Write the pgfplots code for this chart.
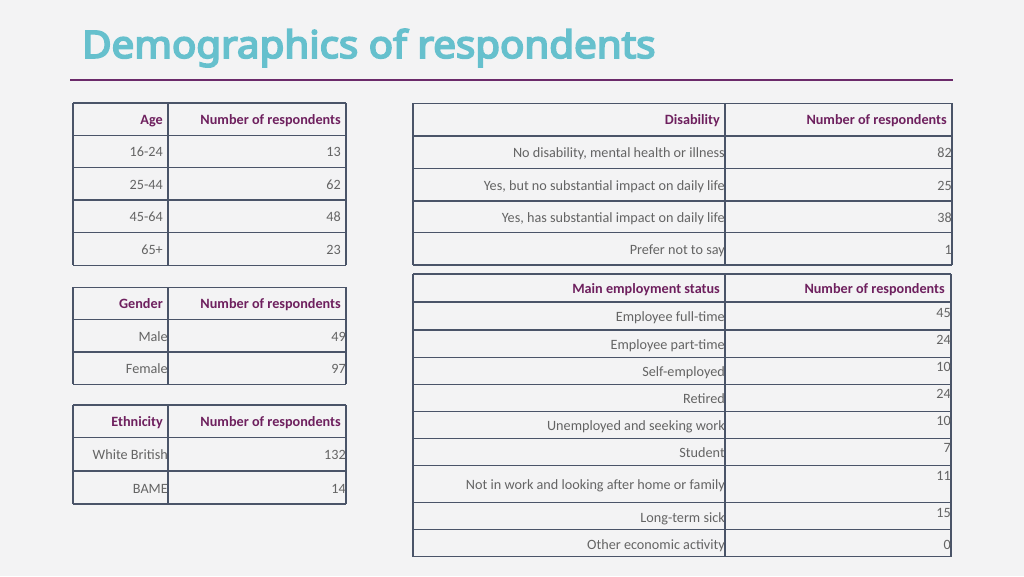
\documentclass[border=0pt]{standalone}
\usepackage{fontspec}
\setmainfont{Carlito}
\newfontfamily\titlefont{Noto Sans}[FakeBold=4.5]
\usepackage{pgfplots}
\usepackage{pgfplotstable}
\pgfplotsset{compat=1.18}

\definecolor{bgcol}{HTML}{F3F3F4}
\definecolor{titleteal}{HTML}{66C0CD}
\definecolor{headpurple}{HTML}{6E205E}
\definecolor{rulepurple}{HTML}{6B2A6A}
\definecolor{bodygray}{HTML}{646464}
\definecolor{gridcol}{HTML}{4A5468}

% row centres (y, px from top), category, number of respondents
\pgfplotstableread[col sep=semicolon]{
y;label;value
151.5;16-24;13
184;25-44;62
216.5;45-64;48
249;65+;23
}\agetab

\pgfplotstableread[col sep=semicolon]{
y;label;value
336;Male;49
368;Female;97
}\gendertab

\pgfplotstableread[col sep=semicolon]{
y;label;value
454.5;White British;132
488;BAME;14
}\ethtab

\pgfplotstableread[col sep=semicolon]{
y;label;value
152.5;No disability, mental health or illness;82
185;Yes, but no substantial impact on daily life;25
217;Yes, has substantial impact on daily life;38
249;Prefer not to say;1
}\distab

\pgfplotstableread[col sep=semicolon]{
ly;vy;label;value
316;312;Employee full-time;45
344;339;Employee part-time;24
371;366;Self-employed;10
398;393;Retired;24
425;420;Unemployed and seeking work;10
452;447;Student;7
484;475;Not in work and looking after home or family;11
517;512;Long-term sick;15
544;544;Other economic activity;0
}\emptab

\pgfplotsset{
  celltext/.style={draw=none, mark=none, nodes near coords,
    point meta=explicit symbolic,
    nodes near coords align={anchor=base east},
    every node near coord/.append style={inner sep=0pt, yshift=-5pt,
      text=bodygray, font=\fontsize{14.2}{16}\selectfont}},
}

\newcommand{\headcell}[3]{%
  \node[anchor=base east, inner sep=0pt, text=headpurple,
    font=\fontsize{14.2}{16}\selectfont\bfseries] at (axis cs:#1,#2) {#3};}

\begin{document}
\begin{tikzpicture}
\begin{axis}[
  hide axis, scale only axis,
  width=1024pt, height=576pt,
  xmin=0, xmax=1024, ymin=0, ymax=576,
  y dir=reverse, clip=false,
]
\fill[bgcol] (axis cs:0,0) rectangle (axis cs:1024,576);

% title and rule
\node[anchor=base west, inner sep=0pt, text=titleteal,
  font=\titlefont\fontsize{38}{44}\selectfont]
  at (axis cs:82,58) {\scalebox{1.06}[1]{Demographics of respondents}};
\draw[rulepurple, line width=2pt] (axis cs:70,80) -- (axis cs:953,80);

% table grids
\pgfplotsinvokeforeach{103,135.3,167.7,200,232.3,265.3}{
  \draw[gridcol, line width=1.3pt] (axis cs:73,#1) -- (axis cs:346,#1);}
\draw[gridcol, line width=1.3pt] (axis cs:73,103) -- (axis cs:73,265.3)
  (axis cs:168,103) -- (axis cs:168,265.3) (axis cs:346,103) -- (axis cs:346,265.3);

\pgfplotsinvokeforeach{287.3,319.7,352,384.3}{
  \draw[gridcol, line width=1.3pt] (axis cs:73,#1) -- (axis cs:346,#1);}
\draw[gridcol, line width=1.3pt] (axis cs:73,287.3) -- (axis cs:73,384.3)
  (axis cs:168,287.3) -- (axis cs:168,384.3) (axis cs:346,287.3) -- (axis cs:346,384.3);

\pgfplotsinvokeforeach{405,437.7,471,504}{
  \draw[gridcol, line width=1.3pt] (axis cs:73,#1) -- (axis cs:346,#1);}
\draw[gridcol, line width=1.3pt] (axis cs:73,405) -- (axis cs:73,504)
  (axis cs:168,405) -- (axis cs:168,504) (axis cs:346,405) -- (axis cs:346,504);

\pgfplotsinvokeforeach{103.3,136,168.3,201,232.7,265}{
  \draw[gridcol, line width=1.3pt] (axis cs:413,#1) -- (axis cs:952,#1);}
\draw[gridcol, line width=1.3pt] (axis cs:413,103.3) -- (axis cs:413,265)
  (axis cs:725,103.3) -- (axis cs:725,265) (axis cs:952,103.3) -- (axis cs:952,265);

\pgfplotsinvokeforeach{274,302,330,357.7,384.7,411.7,438.7,465.7,502.7,529.7,556.7}{
  \draw[gridcol, line width=1.3pt] (axis cs:413,#1) -- (axis cs:951,#1);}
\draw[gridcol, line width=1.3pt] (axis cs:413,274) -- (axis cs:413,556.7)
  (axis cs:725,274) -- (axis cs:725,556.7) (axis cs:951,274) -- (axis cs:951,556.7);

% headers
\headcell{163}{124.5}{Age}
\headcell{341}{124.5}{Number of respondents}
\headcell{163}{308.5}{Gender}
\headcell{341}{308.5}{Number of respondents}
\headcell{163}{426.5}{Ethnicity}
\headcell{341}{426.5}{Number of respondents}
\headcell{720}{124.5}{Disability}
\headcell{947}{124.5}{Number of respondents}
\headcell{720}{293}{Main employment status}
\headcell{945}{293}{Number of respondents}

% cell contents
\addplot[celltext] table[x expr=163, y=y, meta=label] {\agetab};
\addplot[celltext] table[x expr=341, y=y, meta=value] {\agetab};
\addplot[celltext] table[x expr=168, y=y, meta=label] {\gendertab};
\addplot[celltext] table[x expr=346, y=y, meta=value] {\gendertab};
\addplot[celltext] table[x expr=168, y=y, meta=label] {\ethtab};
\addplot[celltext] table[x expr=346, y=y, meta=value] {\ethtab};
\addplot[celltext] table[x expr=725, y=y, meta=label] {\distab};
\addplot[celltext] table[x expr=952, y=y, meta=value] {\distab};
\addplot[celltext] table[x expr=725, y=ly, meta=label] {\emptab};
\addplot[celltext] table[x expr=951, y=vy, meta=value] {\emptab};
\end{axis}
\end{tikzpicture}
\end{document}
